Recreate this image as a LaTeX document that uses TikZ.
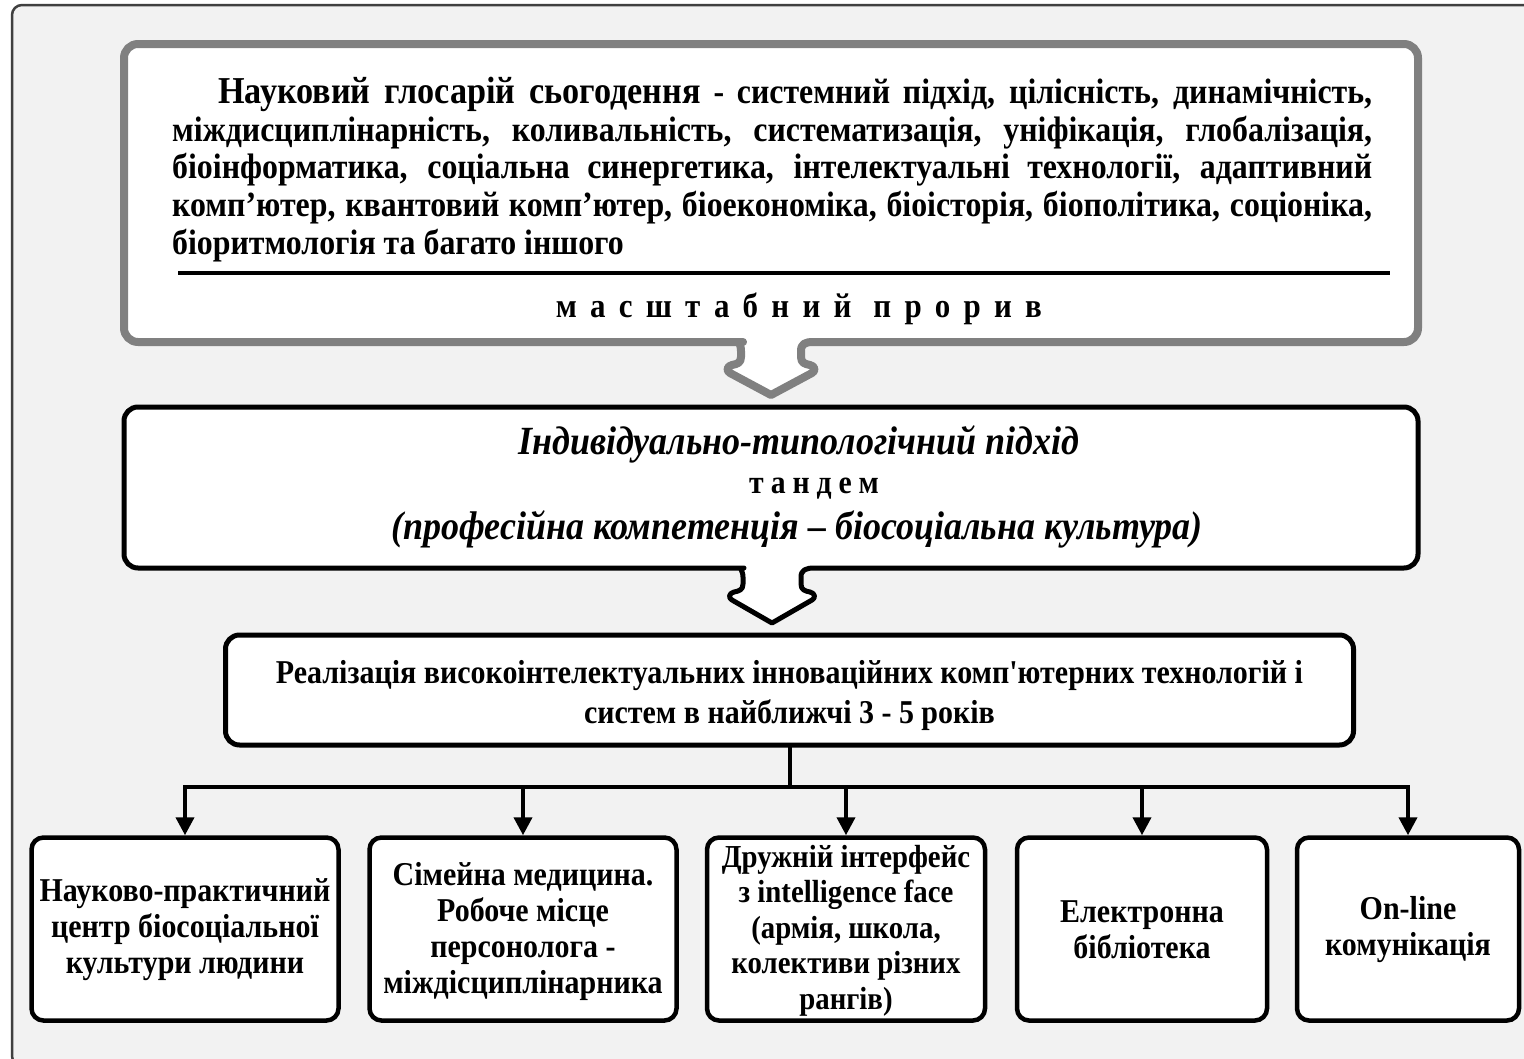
\documentclass[tikz,border=0pt]{standalone}
\usepackage{fontspec}
\setmainfont{Liberation Serif}[FakeStretch=0.9]
\newfontfamily\nolig{Liberation Serif}[Ligatures=TeXOff,FakeStretch=0.9]
\usetikzlibrary{arrows.meta}
\definecolor{bgc}{HTML}{F2F2F2}
\definecolor{framec}{HTML}{404040}
\definecolor{grayc}{HTML}{808080}
\newcommand{\lowstrut}[1]{\rule{0pt}{#1}}
\begin{document}
\begin{tikzpicture}[x=1pt,y=-1pt,
  graybox/.style={draw=grayc, line width=8pt, fill=white, line join=round},
  blackbox/.style={draw=black, line width=5pt, fill=white, line join=round},
  leaf/.style={draw=black, line width=4.5pt, fill=white, rounded corners=12pt, align=center,
    minimum height=183pt, inner sep=1pt, font=\fontsize{33.3}{36}\selectfont\bfseries},
  conn/.style={line width=4pt, line cap=rect},
  arr/.style={line width=4pt, -{Triangle[length=18pt,width=18pt]}},
  plain/.style={inner sep=0pt}
]
\useasboundingbox (0,0) rectangle (1524,1058);
\clip (0,0) rectangle (1524,1058);
% outer frame
\filldraw[fill=bgc, draw=framec, line width=2.5pt, rounded corners=10pt]
  (12,1066) -- (12,5) -- (1545,5) -- (1545,1066) -- cycle;

% top box with notch arrow
\filldraw[graybox] (813,342) [rounded corners=14pt] -- (1418,342) -- (1418,44) -- (124,44) -- (124,342) -- (729,342) [sharp corners]
  .. controls (737,342) and (741,344) .. (741,351) -- (741,357)
  .. controls (741,363) and (737,364) .. (732,365)
  .. controls (727,366) and (726,371) .. (730,373) -- (771,395) -- (812,373)
  .. controls (816,371) and (815,366) .. (810,365)
  .. controls (805,364) and (801,363) .. (801,357) -- (801,351)
  .. controls (801,344) and (805,342) .. (813,342) -- cycle;

\node[plain, anchor=north west, text width=1200pt, align=justify,
  font=\fontsize{35.4}{37.7}\selectfont\bfseries] (glos) at (172,77)
 {\tolerance=9999\hfuzz=30pt\hspace*{46pt}{\fontsize{38}{37.7}\selectfont Науковий глосарій сьогодення} - системний підхід, цілісність, динамічність,\linebreak
 міждисциплінарність, коливальність, систематизація, уніфікація, глобалізація,\linebreak
 біоінформатика, соціальна синергетика, інтелектуальні технології, адаптивний\linebreak
 комп’ютер, квантовий комп’ютер, біоекономіка, біоісторія, біополітика, соціоніка,\linebreak
 біоритмологія та багато іншого};

\coordinate (ruleL) at (178,273);
\coordinate (ruleR) at (1390,273);
\draw[line width=4pt] (ruleL) -- (ruleR);

\node[plain, font=\fontsize{34.4}{36}\selectfont\bfseries\addfontfeature{LetterSpace=38.5}] (prorv) at (799,309)
  {масштабний\hspace{22pt}прорив};

% second box with notch arrow
\filldraw[blackbox] (814,568) [rounded corners=14pt] -- (1418,568) -- (1418,407) -- (124,407) -- (124,568) -- (730,568) [sharp corners]
  .. controls (738,568) and (743,570) .. (743,577) -- (743,584)
  .. controls (743,590) and (739,591) .. (734,592)
  .. controls (729,593) and (728,598) .. (732,600) -- (772,623) -- (812,600)
  .. controls (816,598) and (815,593) .. (810,592)
  .. controls (805,591) and (801,590) .. (801,584) -- (801,577)
  .. controls (801,570) and (806,568) .. (814,568) -- cycle;

\node[plain, font=\fontsize{40}{44}\selectfont\bfseries\itshape] (indiv) at (799,444)
  {Індивідуально-типологічний підхід};
\node[plain, font=\fontsize{33}{36}\selectfont\bfseries\addfontfeature{LetterSpace=21}] (tandem) at (814,489)
  {тандем};
\node[plain, font=\fontsize{40}{44}\selectfont\bfseries\itshape] (prof) at (797,529)
  {(професійна компетенція – біосоціальна культура)};

% third box
\node[blackbox, rounded corners=14pt, minimum width=1128pt, minimum height=110pt, align=center,
  inner sep=0pt, font=\nolig\fontsize{33.3}{40}\selectfont\bfseries] (real) at (789.5,690)
  {\lowstrut{34pt}Реалізація високоінтелектуальних інноваційних комп'ютерних технологій і\\
   систем в найближчі 3 - 5 років};

% bottom boxes
\node[leaf, minimum width=307pt] (b1) at (185,929)
  {\lowstrut{25pt}Науково-практичний\\центр біосоціальної\\культури людини};
\node[leaf, minimum width=307pt] (b2) at (523,929)
  {\lowstrut{28pt}Сімейна медицина.\\Робоче місце\\персонолога -\\міждісциплінарника};
\node[leaf, minimum width=278pt, font=\fontsize{32}{35.5}\selectfont\bfseries] (b3) at (846,929)
  {\lowstrut{25pt}Дружній інтерфейс\\з intelligence face\\(армія, школа,\\колективи різних\\рангів)};
\node[leaf, minimum width=250pt] (b4) at (1142,929)
  {\lowstrut{24pt}Електронна\\бібліотека};
\node[leaf, minimum width=222pt] (b5) at (1408,929)
  {\lowstrut{24pt}On-line\\комунікація};

% connectors
\coordinate (bus) at (789.5,787);
\draw[conn] (real.south) -- (bus);
\draw[conn] (b1.north |- bus) -- (b5.north |- bus);
\draw[arr] (b1.north |- bus) -- (b1.north);
\draw[arr] (b2.north |- bus) -- (b2.north);
\draw[arr] (b3.north |- bus) -- (b3.north);
\draw[arr] (b4.north |- bus) -- (b4.north);
\draw[arr] (b5.north |- bus) -- (b5.north);
\end{tikzpicture}
\end{document}
